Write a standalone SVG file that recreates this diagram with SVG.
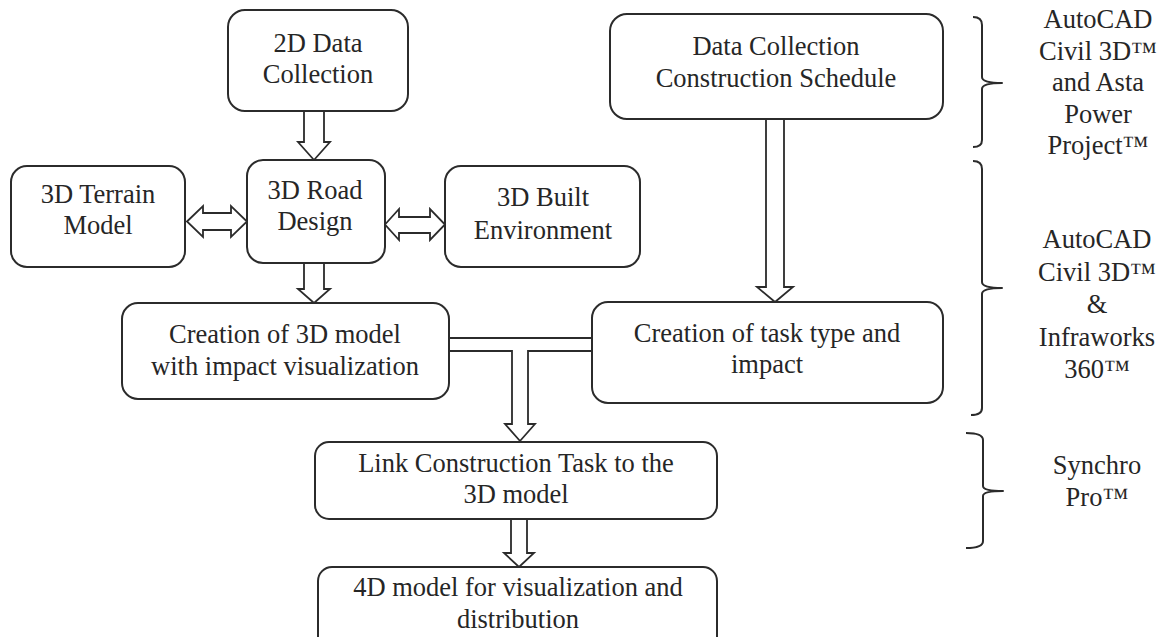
<svg xmlns="http://www.w3.org/2000/svg" width="1160" height="637" viewBox="0 0 1160 637">
  <style>
    .box { fill: #ffffff; stroke: #2b2b2b; stroke-width: 2; }
    .arrow { fill: #ffffff; stroke: #2b2b2b; stroke-width: 1.8; stroke-linejoin: miter; }
    .brace { fill: none; stroke: #2b2b2b; stroke-width: 2; stroke-linejoin: round; }
    .lbl { font-family: "Liberation Serif", "Times New Roman", serif; font-size: 26.5px; fill: #262626; text-anchor: middle; }
  </style>
  <rect width="1160" height="637" fill="#ffffff"/>

  <!-- connectors (drawn first so box borders sit on top of their ends) -->
  <g id="connectors">
    <!-- 2D data -> 3D road design -->
    <path class="arrow" d="M304,111 L304,142 L298,142 L314,160 L330,142 L324,142 L324,111"/>
    <!-- 3D road design -> 3D model creation -->
    <path class="arrow" d="M304,263 L304,289 L298,289 L314,303 L330,289 L324,289 L324,263"/>
    <!-- terrain <-> road -->
    <path class="arrow" d="M187,221.5 L203,206 L203,213 L231,213 L231,206 L247,221.5 L231,237 L231,230 L203,230 L203,237 Z"/>
    <!-- road <-> built environment -->
    <path class="arrow" d="M385,224.5 L399,209 L399,217 L430,217 L430,209 L445,224.5 L430,240 L430,233 L399,233 L399,240 Z"/>
    <!-- schedule -> task type -->
    <path class="arrow" d="M766,119 L766,287 L757,287 L775,302 L793,287 L784,287 L784,119"/>
    <!-- both branches merge into the link step -->
    <path class="arrow" d="M449,351 L512,351 L512,424 L505,424 L520,441 L535,424 L528,424 L528,351 L592,351 L592,338 L449,338 Z"/>
    <!-- link -> 4D model -->
    <path class="arrow" d="M511,519 L511,553 L504,553 L519,567 L534,553 L527,553 L527,519"/>
  </g>

  <g id="n-2d-data">
    <rect class="box" x="228" y="10" width="180" height="101" rx="17"/>
    <text class="lbl" x="318" y="52">2D Data</text>
    <text class="lbl" x="318" y="83">Collection</text>
  </g>

  <g id="n-terrain">
    <rect class="box" x="11" y="166" width="174" height="101" rx="16"/>
    <text class="lbl" x="98" y="203">3D Terrain</text>
    <text class="lbl" x="98" y="234">Model</text>
  </g>

  <g id="n-road">
    <rect class="box" x="247" y="160" width="138" height="103" rx="16"/>
    <text class="lbl" x="315" y="199">3D Road</text>
    <text class="lbl" x="315" y="230">Design</text>
  </g>

  <g id="n-built">
    <rect class="box" x="445" y="166" width="195" height="101" rx="16"/>
    <text class="lbl" x="543" y="206">3D Built</text>
    <text class="lbl" x="543" y="239">Environment</text>
  </g>

  <g id="n-schedule">
    <rect class="box" x="610" y="14" width="333" height="105" rx="17"/>
    <text class="lbl" x="776" y="55">Data Collection</text>
    <text class="lbl" x="776" y="87">Construction Schedule</text>
  </g>

  <g id="n-model">
    <rect class="box" x="122" y="303" width="327" height="96" rx="16"/>
    <text class="lbl" x="285" y="343">Creation of 3D model</text>
    <text class="lbl" x="285" y="375">with impact visualization</text>
  </g>

  <g id="n-task">
    <rect class="box" x="592" y="302" width="351" height="101" rx="16"/>
    <text class="lbl" x="767" y="342">Creation of task type and</text>
    <text class="lbl" x="767" y="373">impact</text>
  </g>

  <g id="n-link">
    <rect class="box" x="315" y="442" width="402" height="77" rx="14"/>
    <text class="lbl" x="516" y="472">Link Construction Task to the</text>
    <text class="lbl" x="516" y="503">3D model</text>
  </g>

  <g id="n-4d">
    <rect class="box" x="318" y="567" width="399" height="84" rx="14"/>
    <text class="lbl" x="518" y="596">4D model for visualization and</text>
    <text class="lbl" x="518" y="628">distribution</text>
  </g>

  <!-- software braces and labels -->
  <g id="tools-schedule">
    <path class="brace" d="M973,17 Q982,17 982,25 L982,77 Q982,83 1002,83 Q982,83 982,89 L982,140 Q982,147 973,147"/>
    <text class="lbl" x="1098" y="28">AutoCAD</text>
    <text class="lbl" x="1098" y="59.5">Civil 3D™</text>
    <text class="lbl" x="1098" y="91">and Asta</text>
    <text class="lbl" x="1098" y="122.5">Power</text>
    <text class="lbl" x="1098" y="154">Project™</text>
  </g>

  <g id="tools-modelling">
    <path class="brace" d="M973,161 Q982,161 982,169 L982,282 Q982,288 1002,288 Q982,288 982,294 L982,408 Q982,415 971,415"/>
    <text class="lbl" x="1097" y="248">AutoCAD</text>
    <text class="lbl" x="1097" y="280.5">Civil 3D™</text>
    <text class="lbl" x="1097" y="313">&amp;</text>
    <text class="lbl" x="1097" y="345.5">Infraworks</text>
    <text class="lbl" x="1097" y="378">360™</text>
  </g>

  <g id="tools-4d">
    <path class="brace" d="M966,433 Q983,433 983,440 L983,486 Q983,491 1003,491 Q983,491 983,496 L983,541 Q983,548 966,548"/>
    <text class="lbl" x="1097" y="474">Synchro</text>
    <text class="lbl" x="1097" y="506">Pro™</text>
  </g>
</svg>
